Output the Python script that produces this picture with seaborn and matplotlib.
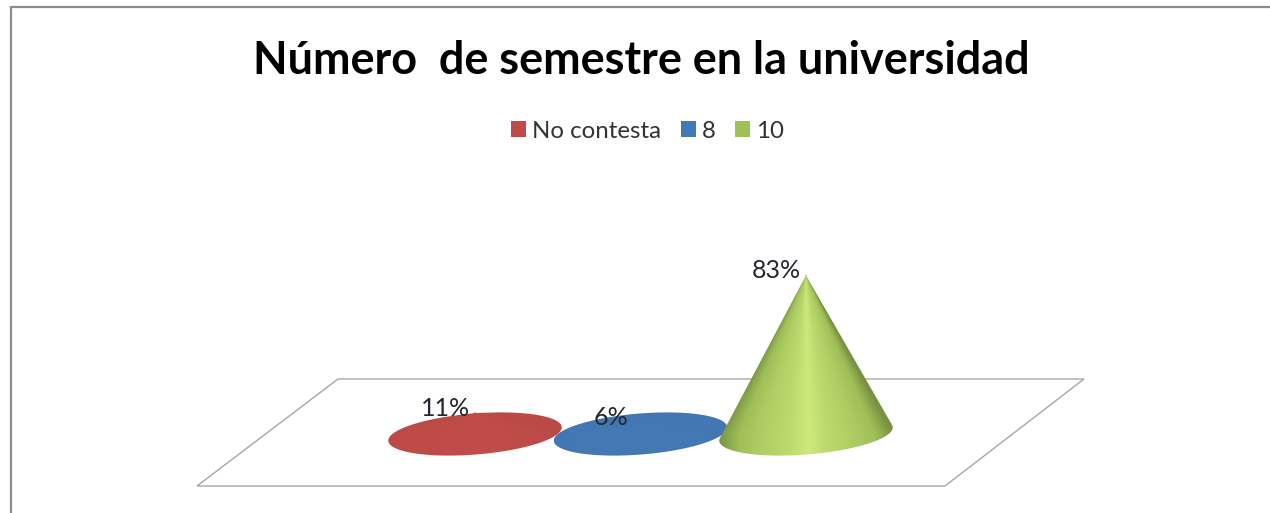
import numpy as np
import pandas as pd
import seaborn as sns
import matplotlib
matplotlib.use("Agg")
import matplotlib.pyplot as plt
from matplotlib.colors import to_rgb
from matplotlib.lines import Line2D
from matplotlib.patches import Patch, Polygon

# Survey results
categories = ["No contesta", "8", "10"]
percentages = [11, 6, 83]
value_labels = ["11%", "6%", "83%"]
chart_title = "Número  de semestre en la universidad"
palette = ["#BE4B48", "#4478B5", "#9FBF57"]

sns.set_theme(style="white")
plt.rcParams["font.family"] = ["Lato", "DejaVu Sans"]

W, H = 1270, 513
PX_PER_CAT = 165.5   # horizontal pixels between neighbouring cones
PX_PER_PCT = 1.91    # vertical pixels per percentage point
ORIGIN_X, ORIGIN_Y = 475.0, 434.0
BASE_A, BASE_B = 87.0, 20.5   # base ellipse semi-axes in pixels
TILT = np.deg2rad(4.6)

fig = plt.figure(figsize=(W / 100, H / 100), dpi=100, facecolor="white")
ax = fig.add_axes([0, 0, 1, 1])
ax.set_xlim(-ORIGIN_X / PX_PER_CAT, (W - ORIGIN_X) / PX_PER_CAT)
ax.set_ylim(-(H - ORIGIN_Y) / PX_PER_PCT, ORIGIN_Y / PX_PER_PCT)
ax.set_aspect("auto")

df = pd.DataFrame({"pos": np.arange(len(categories)), "pct": percentages, "cat": categories})

# Floor of the 3D plot, given as axes fractions
floor = np.array([[197, 486], [945, 486], [1084, 379], [338, 379]], dtype=float)
floor = floor / [W, H]
floor[:, 1] = 1 - floor[:, 1]
ax.add_patch(Polygon(floor, closed=True, transform=ax.transAxes, facecolor="white",
                     edgecolor="#a6a6a6", linewidth=1.0, zorder=1))


def convex_hull(points):
    pts = sorted(map(tuple, points))
    def half(seq):
        out = []
        for p in seq:
            while len(out) > 1 and (out[-1][0] - out[-2][0]) * (p[1] - out[-2][1]) - \
                    (out[-1][1] - out[-2][1]) * (p[0] - out[-2][0]) <= 0:
                out.pop()
            out.append(p)
        return out[:-1]
    return np.array(half(pts) + half(pts[::-1]))


def draw_cone(pos, pct, color, zorder):
    """Cone on a tilted elliptical base; its height comes from the percentage."""
    t = np.linspace(0, 2 * np.pi, 240, endpoint=False)
    ex = BASE_A * np.cos(t) * np.cos(TILT) - BASE_B * np.sin(t) * np.sin(TILT)
    ey = BASE_A * np.cos(t) * np.sin(TILT) + BASE_B * np.sin(t) * np.cos(TILT)
    outline = np.column_stack([pos + ex / PX_PER_CAT, ey / PX_PER_PCT])
    hull = convex_hull(np.vstack([outline, [pos, pct]]))

    xs = np.linspace(hull[:, 0].min(), hull[:, 0].max(), 360)
    ys = np.linspace(hull[:, 1].min(), hull[:, 1].max(), 360)
    gx, gy = np.meshgrid(xs, ys)
    frac = np.clip(gy / max(pct, 1e-6), 0, 0.995)
    u = np.clip((gx - pos) * PX_PER_CAT / BASE_A / (1 - frac), -1, 1)

    # Lighting profile across the cone: dark rims, soft bright ridge near the middle
    shade = np.interp(u, [-1, -0.85, -0.55, -0.2, 0.03, 0.25, 0.55, 0.85, 1],
                      [-0.24, -0.08, 0.22, 0.45, 0.72, 0.45, 0.22, -0.06, -0.24])
    shade = shade * (pct / max(percentages)) ** 1.5
    rgb = np.array(to_rgb(color))
    glow = np.clip(rgb + [0.25, 0.23, 0.2], 0, 1)
    img = np.where(shade[..., None] >= 0,
                   rgb + (glow - rgb) * shade[..., None],
                   rgb * (1 + shade[..., None]))
    im = ax.imshow(img, extent=[xs[0], xs[-1], ys[0], ys[-1]], origin="lower",
                   aspect="auto", interpolation="bilinear", zorder=zorder)
    clip = Polygon(hull, closed=True, transform=ax.transData, facecolor="none",
                   edgecolor="none")
    ax.add_patch(clip)
    im.set_clip_path(clip)


for i, (pct, color) in enumerate(zip(percentages, palette)):
    draw_cone(i, pct, color, 3 + i)

# imshow resets the limits, so restore them
ax.set_xlim(-ORIGIN_X / PX_PER_CAT, (W - ORIGIN_X) / PX_PER_CAT)
ax.set_ylim(-(H - ORIGIN_Y) / PX_PER_PCT, ORIGIN_Y / PX_PER_PCT)

# Apex markers, tucked inside each cone
sns.scatterplot(data=df, x="pos", y="pct", hue="cat", palette=palette, s=1,
                linewidth=0, legend=False, ax=ax, zorder=2)
ax.set_xlabel("")
ax.set_ylabel("")
ax.axis("off")

for i, (pct, text) in enumerate(zip(percentages, value_labels)):
    ax.annotate(text, xy=(i, pct), xytext=(-21.5, 3.5), textcoords="offset points",
                ha="center", va="center", fontsize=18, color="#26262e", zorder=10)

fig.text(641 / W, 1 - 61 / H, chart_title, ha="center", va="center",
         fontsize=32.4, fontweight="bold", color="black")

handles = [Patch(facecolor=c, edgecolor="none") for c in palette]
fig.legend(handles, categories, loc="center", bbox_to_anchor=(647.5 / W, 1 - 131 / H),
           ncol=3, frameon=False, fontsize=17.3, labelcolor="#333333",
           handlelength=0.62, handleheight=0.62, handletextpad=0.25, columnspacing=0.82)

# Chart frame: top and left edges
fig.add_artist(Line2D([10.5 / W, 10.5 / W], [0, 1 - 7 / H], color="#8c8c8c", lw=1.6))
fig.add_artist(Line2D([10.5 / W, 1], [1 - 7 / H, 1 - 7 / H], color="#8c8c8c", lw=1.6))

fig.savefig("out.png", dpi=100)
